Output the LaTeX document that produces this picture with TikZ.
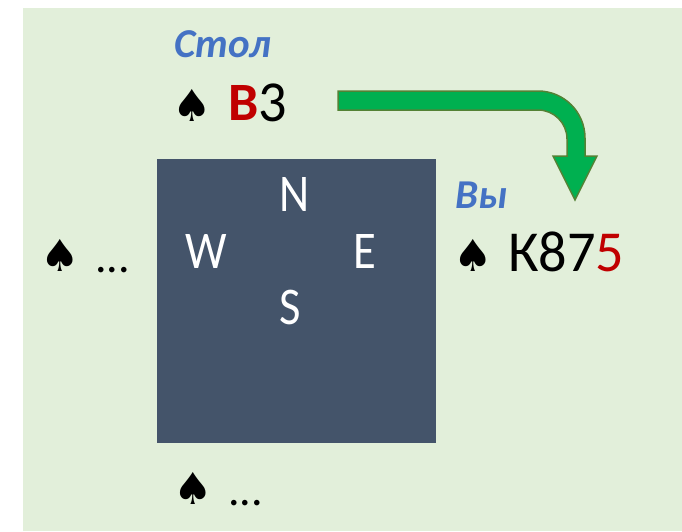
\documentclass[tikz,border=0pt]{standalone}
\usepackage{fontspec}
\setmainfont{Carlito}
\newfontfamily\spadefont{DejaVu Sans}
\newfontfamily\seatfont[FakeStretch=0.88]{Carlito}
\newfontfamily\cardfont[FakeStretch=0.97]{Carlito}
\definecolor{bgGreen}{HTML}{E2EFDA}
\definecolor{boardBlue}{HTML}{44546A}
\definecolor{labelBlue}{HTML}{4472C4}
\definecolor{cardRed}{HTML}{C00000}
\definecolor{arrowGreen}{HTML}{00B050}
\definecolor{arrowEdge}{HTML}{548235}
\newcommand{\spd}{{\spadefont\fontsize{44}{44}\selectfont ♠}}
\tikzset{
  x=1pt,y=-1pt,
  txt/.style={inner sep=0pt,outer sep=0pt,anchor=base west},
  seat/.style={txt,text=white,font=\seatfont\fontsize{53}{53}\selectfont},
  who/.style={txt,text=labelBlue,font=\bfseries\itshape\fontsize{41}{41}\selectfont},
  suit/.style={txt,text=black},
  cards/.style={txt,text=black,font=\cardfont\fontsize{58}{58}\selectfont},
  dots/.style={txt,text=black,font=\fontsize{46}{46}\selectfont}
}
\begin{document}
\begin{tikzpicture}
\useasboundingbox (0,0) rectangle (682,531);
\fill[bgGreen] (23,8) rectangle (682,531);
\node[fill=boardBlue,minimum width=279pt,minimum height=284pt,inner sep=0pt,outer sep=0pt,anchor=north west] (board) at (157,159) {};
\node[who] (table) at (174,57) {Стол};
\node[who] (you) at (455,208) {Вы};
\node[suit] (s1) at (172,121) {\spd};
\node[txt,text=cardRed,font=\bfseries\fontsize{54}{54}\selectfont] (b3) at (228,120) {В};
\node[cards] (three) at (258,121) {3};
\node[suit] (s2) at (453,271) {\spd};
\node[cards] (k) at (508,271) {К87\textcolor{cardRed}{5}};
\node[suit] (s3) at (40,271) {\spd};
\node[dots] (d3) at (95,272) {...};
\node[suit] (s4) at (173,504) {\spd};
\node[dots] (d4) at (228,505) {...};
\node[seat] (n) at (279,211) {N};
\node[seat] (w) at (185,268) {W};
\node[seat] (e) at (353,268) {E};
\node[seat] (so) at (279,324) {S};
\draw[fill=arrowGreen,draw=arrowEdge,line width=1.5pt,line join=miter]
  (338,91) -- (538,91) arc[start angle=-90,end angle=0,radius=47] -- (585,156) -- (597,156) -- (575,200) -- (553,156) -- (567,156) -- (567,139) arc[start angle=0,end angle=-90,radius=29] -- (338,110) -- cycle;
\end{tikzpicture}
\end{document}
